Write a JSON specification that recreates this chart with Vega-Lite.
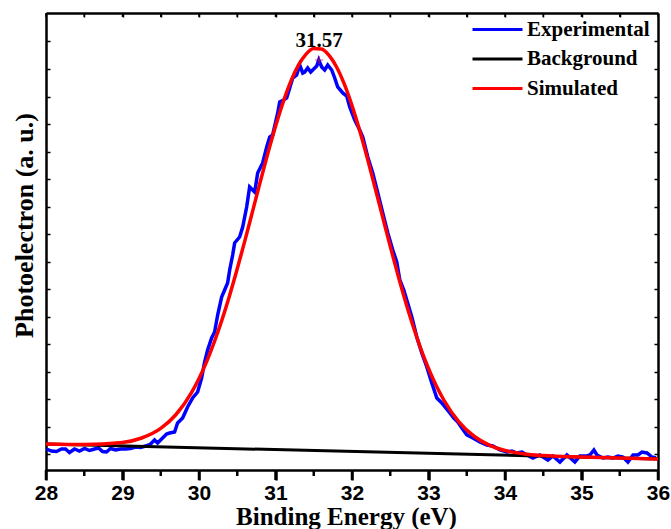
{
  "$schema": "https://vega.github.io/schema/vega-lite/v6.json",
  "width": 612,
  "height": 457,
  "autosize": {"type": "none"},
  "padding": {"left": 46, "top": 13, "right": 13, "bottom": 59},
  "background": "white",
  "config": {
    "view": {"stroke": null},
    "font": "Liberation Serif",
    "scale": {"continuousPadding": 0}
  },
  "datasets": {
    "xps": [
      {"series": "Experimental", "energy": 28.007, "intensity": 21},
      {"series": "Experimental", "energy": 28.072, "intensity": 19},
      {"series": "Experimental", "energy": 28.137, "intensity": 18.5},
      {"series": "Experimental", "energy": 28.203, "intensity": 21},
      {"series": "Experimental", "energy": 28.255, "intensity": 21},
      {"series": "Experimental", "energy": 28.307, "intensity": 17.5},
      {"series": "Experimental", "energy": 28.373, "intensity": 21},
      {"series": "Experimental", "energy": 28.438, "intensity": 19},
      {"series": "Experimental", "energy": 28.504, "intensity": 21.5},
      {"series": "Experimental", "energy": 28.569, "intensity": 19.5},
      {"series": "Experimental", "energy": 28.634, "intensity": 21},
      {"series": "Experimental", "energy": 28.687, "intensity": 22},
      {"series": "Experimental", "energy": 28.739, "intensity": 18.5},
      {"series": "Experimental", "energy": 28.791, "intensity": 18},
      {"series": "Experimental", "energy": 28.844, "intensity": 21.5},
      {"series": "Experimental", "energy": 28.909, "intensity": 20},
      {"series": "Experimental", "energy": 28.975, "intensity": 21},
      {"series": "Experimental", "energy": 29.040, "intensity": 21},
      {"series": "Experimental", "energy": 29.105, "intensity": 21.5},
      {"series": "Experimental", "energy": 29.171, "intensity": 23},
      {"series": "Experimental", "energy": 29.236, "intensity": 22.5},
      {"series": "Experimental", "energy": 29.302, "intensity": 24},
      {"series": "Experimental", "energy": 29.367, "intensity": 26},
      {"series": "Experimental", "energy": 29.419, "intensity": 30},
      {"series": "Experimental", "energy": 29.459, "intensity": 27},
      {"series": "Experimental", "energy": 29.524, "intensity": 32},
      {"series": "Experimental", "energy": 29.576, "intensity": 36},
      {"series": "Experimental", "energy": 29.616, "intensity": 37},
      {"series": "Experimental", "energy": 29.681, "intensity": 38},
      {"series": "Experimental", "energy": 29.720, "intensity": 47},
      {"series": "Experimental", "energy": 29.786, "intensity": 52},
      {"series": "Experimental", "energy": 29.851, "intensity": 63},
      {"series": "Experimental", "energy": 29.917, "intensity": 72},
      {"series": "Experimental", "energy": 29.982, "intensity": 78},
      {"series": "Experimental", "energy": 30.034, "intensity": 92},
      {"series": "Experimental", "energy": 30.074, "intensity": 108},
      {"series": "Experimental", "energy": 30.113, "intensity": 120},
      {"series": "Experimental", "energy": 30.165, "intensity": 132},
      {"series": "Experimental", "energy": 30.204, "intensity": 138},
      {"series": "Experimental", "energy": 30.244, "intensity": 155},
      {"series": "Experimental", "energy": 30.296, "intensity": 173},
      {"series": "Experimental", "energy": 30.335, "intensity": 180},
      {"series": "Experimental", "energy": 30.374, "intensity": 187},
      {"series": "Experimental", "energy": 30.401, "intensity": 200},
      {"series": "Experimental", "energy": 30.440, "intensity": 215},
      {"series": "Experimental", "energy": 30.466, "intensity": 227},
      {"series": "Experimental", "energy": 30.531, "intensity": 233},
      {"series": "Experimental", "energy": 30.571, "intensity": 243},
      {"series": "Experimental", "energy": 30.623, "intensity": 263},
      {"series": "Experimental", "energy": 30.662, "intensity": 283},
      {"series": "Experimental", "energy": 30.728, "intensity": 278},
      {"series": "Experimental", "energy": 30.767, "intensity": 297},
      {"series": "Experimental", "energy": 30.832, "intensity": 307},
      {"series": "Experimental", "energy": 30.885, "intensity": 323},
      {"series": "Experimental", "energy": 30.924, "intensity": 333},
      {"series": "Experimental", "energy": 30.963, "intensity": 335},
      {"series": "Experimental", "energy": 31.029, "intensity": 357},
      {"series": "Experimental", "energy": 31.055, "intensity": 368},
      {"series": "Experimental", "energy": 31.107, "intensity": 370},
      {"series": "Experimental", "energy": 31.146, "intensity": 372},
      {"series": "Experimental", "energy": 31.186, "intensity": 382},
      {"series": "Experimental", "energy": 31.225, "intensity": 392},
      {"series": "Experimental", "energy": 31.277, "intensity": 395},
      {"series": "Experimental", "energy": 31.316, "intensity": 405},
      {"series": "Experimental", "energy": 31.356, "intensity": 397},
      {"series": "Experimental", "energy": 31.382, "intensity": 398},
      {"series": "Experimental", "energy": 31.421, "intensity": 402},
      {"series": "Experimental", "energy": 31.460, "intensity": 398},
      {"series": "Experimental", "energy": 31.513, "intensity": 402},
      {"series": "Experimental", "energy": 31.539, "intensity": 404},
      {"series": "Experimental", "energy": 31.565, "intensity": 410},
      {"series": "Experimental", "energy": 31.604, "intensity": 403},
      {"series": "Experimental", "energy": 31.643, "intensity": 400},
      {"series": "Experimental", "energy": 31.683, "intensity": 405},
      {"series": "Experimental", "energy": 31.735, "intensity": 400},
      {"series": "Experimental", "energy": 31.774, "intensity": 392},
      {"series": "Experimental", "energy": 31.813, "intensity": 383},
      {"series": "Experimental", "energy": 31.879, "intensity": 377},
      {"series": "Experimental", "energy": 31.931, "intensity": 374},
      {"series": "Experimental", "energy": 31.970, "intensity": 363},
      {"series": "Experimental", "energy": 32.036, "intensity": 350},
      {"series": "Experimental", "energy": 32.101, "intensity": 340},
      {"series": "Experimental", "energy": 32.141, "intensity": 333},
      {"series": "Experimental", "energy": 32.206, "intensity": 313},
      {"series": "Experimental", "energy": 32.271, "intensity": 297},
      {"series": "Experimental", "energy": 32.337, "intensity": 277},
      {"series": "Experimental", "energy": 32.402, "intensity": 257},
      {"series": "Experimental", "energy": 32.468, "intensity": 237},
      {"series": "Experimental", "energy": 32.533, "intensity": 220},
      {"series": "Experimental", "energy": 32.585, "intensity": 208},
      {"series": "Experimental", "energy": 32.625, "intensity": 190},
      {"series": "Experimental", "energy": 32.677, "intensity": 180},
      {"series": "Experimental", "energy": 32.716, "intensity": 170},
      {"series": "Experimental", "energy": 32.782, "intensity": 153},
      {"series": "Experimental", "energy": 32.847, "intensity": 133},
      {"series": "Experimental", "energy": 32.912, "intensity": 117},
      {"series": "Experimental", "energy": 32.978, "intensity": 103},
      {"series": "Experimental", "energy": 33.043, "intensity": 87},
      {"series": "Experimental", "energy": 33.109, "intensity": 72},
      {"series": "Experimental", "energy": 33.174, "intensity": 67},
      {"series": "Experimental", "energy": 33.226, "intensity": 62},
      {"series": "Experimental", "energy": 33.279, "intensity": 57},
      {"series": "Experimental", "energy": 33.331, "intensity": 52},
      {"series": "Experimental", "energy": 33.383, "intensity": 48},
      {"series": "Experimental", "energy": 33.436, "intensity": 42},
      {"series": "Experimental", "energy": 33.501, "intensity": 35},
      {"series": "Experimental", "energy": 33.580, "intensity": 32},
      {"series": "Experimental", "energy": 33.671, "intensity": 28},
      {"series": "Experimental", "energy": 33.763, "intensity": 25},
      {"series": "Experimental", "energy": 33.841, "intensity": 24},
      {"series": "Experimental", "energy": 33.933, "intensity": 20},
      {"series": "Experimental", "energy": 34.024, "intensity": 18},
      {"series": "Experimental", "energy": 34.090, "intensity": 19},
      {"series": "Experimental", "energy": 34.155, "intensity": 17},
      {"series": "Experimental", "energy": 34.221, "intensity": 18},
      {"series": "Experimental", "energy": 34.286, "intensity": 15},
      {"series": "Experimental", "energy": 34.364, "intensity": 12},
      {"series": "Experimental", "energy": 34.456, "intensity": 15},
      {"series": "Experimental", "energy": 34.561, "intensity": 10},
      {"series": "Experimental", "energy": 34.626, "intensity": 14},
      {"series": "Experimental", "energy": 34.718, "intensity": 8},
      {"series": "Experimental", "energy": 34.809, "intensity": 15},
      {"series": "Experimental", "energy": 34.914, "intensity": 8},
      {"series": "Experimental", "energy": 34.979, "intensity": 14},
      {"series": "Experimental", "energy": 35.071, "intensity": 14},
      {"series": "Experimental", "energy": 35.110, "intensity": 15},
      {"series": "Experimental", "energy": 35.162, "intensity": 20},
      {"series": "Experimental", "energy": 35.202, "intensity": 15},
      {"series": "Experimental", "energy": 35.280, "intensity": 12},
      {"series": "Experimental", "energy": 35.346, "intensity": 13},
      {"series": "Experimental", "energy": 35.411, "intensity": 12},
      {"series": "Experimental", "energy": 35.476, "intensity": 14},
      {"series": "Experimental", "energy": 35.542, "intensity": 13},
      {"series": "Experimental", "energy": 35.607, "intensity": 8},
      {"series": "Experimental", "energy": 35.673, "intensity": 15},
      {"series": "Experimental", "energy": 35.738, "intensity": 15},
      {"series": "Experimental", "energy": 35.790, "intensity": 18},
      {"series": "Experimental", "energy": 35.856, "intensity": 17},
      {"series": "Experimental", "energy": 35.921, "intensity": 13},
      {"series": "Experimental", "energy": 35.974, "intensity": 12},
      {"series": "Background", "energy": 28, "intensity": 26},
      {"series": "Background", "energy": 36, "intensity": 11},
      {"series": "Simulated", "energy": 28, "intensity": 26.0},
      {"series": "Simulated", "energy": 28.5, "intensity": 25.5},
      {"series": "Simulated", "energy": 29, "intensity": 27.5},
      {"series": "Simulated", "energy": 29.25, "intensity": 32.0},
      {"series": "Simulated", "energy": 29.5, "intensity": 41.6},
      {"series": "Simulated", "energy": 29.7, "intensity": 55.5},
      {"series": "Simulated", "energy": 29.9, "intensity": 77.1},
      {"series": "Simulated", "energy": 30.0, "intensity": 91.5},
      {"series": "Simulated", "energy": 30.1, "intensity": 108.4},
      {"series": "Simulated", "energy": 30.2, "intensity": 128.0},
      {"series": "Simulated", "energy": 30.3, "intensity": 150.1},
      {"series": "Simulated", "energy": 30.4, "intensity": 174.6},
      {"series": "Simulated", "energy": 30.5, "intensity": 201.2},
      {"series": "Simulated", "energy": 30.6, "intensity": 229.4},
      {"series": "Simulated", "energy": 30.7, "intensity": 258.6},
      {"series": "Simulated", "energy": 30.8, "intensity": 288.0},
      {"series": "Simulated", "energy": 30.9, "intensity": 316.7},
      {"series": "Simulated", "energy": 31.0, "intensity": 343.6},
      {"series": "Simulated", "energy": 31.1, "intensity": 367.9},
      {"series": "Simulated", "energy": 31.2, "intensity": 388.6},
      {"series": "Simulated", "energy": 31.3, "intensity": 404.8},
      {"series": "Simulated", "energy": 31.4, "intensity": 415.9},
      {"series": "Simulated", "energy": 31.5, "intensity": 421.4},
      {"series": "Simulated", "energy": 31.6, "intensity": 421.0},
      {"series": "Simulated", "energy": 31.7, "intensity": 414.7},
      {"series": "Simulated", "energy": 31.8, "intensity": 402.8},
      {"series": "Simulated", "energy": 31.9, "intensity": 385.8},
      {"series": "Simulated", "energy": 32.0, "intensity": 364.4},
      {"series": "Simulated", "energy": 32.1, "intensity": 339.5},
      {"series": "Simulated", "energy": 32.2, "intensity": 311.9},
      {"series": "Simulated", "energy": 32.3, "intensity": 282.8},
      {"series": "Simulated", "energy": 32.4, "intensity": 253.1},
      {"series": "Simulated", "energy": 32.5, "intensity": 223.6},
      {"series": "Simulated", "energy": 32.6, "intensity": 195.1},
      {"series": "Simulated", "energy": 32.7, "intensity": 168.2},
      {"series": "Simulated", "energy": 32.8, "intensity": 143.5},
      {"series": "Simulated", "energy": 32.9, "intensity": 121.2},
      {"series": "Simulated", "energy": 33.0, "intensity": 101.5},
      {"series": "Simulated", "energy": 33.1, "intensity": 84.4},
      {"series": "Simulated", "energy": 33.2, "intensity": 70.0},
      {"series": "Simulated", "energy": 33.4, "intensity": 47.9},
      {"series": "Simulated", "energy": 33.6, "intensity": 33.5},
      {"series": "Simulated", "energy": 33.8, "intensity": 24.7},
      {"series": "Simulated", "energy": 34.0, "intensity": 19.5},
      {"series": "Simulated", "energy": 34.25, "intensity": 16.1},
      {"series": "Simulated", "energy": 34.5, "intensity": 14.4},
      {"series": "Simulated", "energy": 35.0, "intensity": 12.9},
      {"series": "Simulated", "energy": 35.5, "intensity": 11.9},
      {"series": "Simulated", "energy": 36.0, "intensity": 11.0},
      {"series": "Peak", "energy": 31.57, "intensity": 410, "label": "31.57"},
      {"series": "Tick", "kind": "major", "energy": 28},
      {"series": "Tick", "kind": "minor", "energy": 28.5},
      {"series": "Tick", "kind": "major", "energy": 29},
      {"series": "Tick", "kind": "minor", "energy": 29.5},
      {"series": "Tick", "kind": "major", "energy": 30},
      {"series": "Tick", "kind": "minor", "energy": 30.5},
      {"series": "Tick", "kind": "major", "energy": 31},
      {"series": "Tick", "kind": "minor", "energy": 31.5},
      {"series": "Tick", "kind": "major", "energy": 32},
      {"series": "Tick", "kind": "minor", "energy": 32.5},
      {"series": "Tick", "kind": "major", "energy": 33},
      {"series": "Tick", "kind": "minor", "energy": 33.5},
      {"series": "Tick", "kind": "major", "energy": 34},
      {"series": "Tick", "kind": "minor", "energy": 34.5},
      {"series": "Tick", "kind": "major", "energy": 35},
      {"series": "Tick", "kind": "minor", "energy": 35.5},
      {"series": "Tick", "kind": "major", "energy": 36}
    ]
  },
  "data": {"name": "xps"},
  "resolve": {"axis": {"x": "independent", "y": "independent"}},
  "layer": [
    {
      "encoding": {
        "x": {
          "field": "energy", "type": "quantitative",
          "scale": {"domain": [28, 36], "nice": false, "zero": false, "padding": 0},
          "axis": {
            "orient": "bottom",
            "values": [28, 29, 30, 31, 32, 33, 34, 35, 36],
            "format": "d",
            "tickSize": 10, "tickWidth": 2.5, "tickColor": "black",
            "domain": true, "domainColor": "black", "domainWidth": 2.5, "grid": false,
            "labelFont": "Liberation Sans", "labelFontWeight": "bold", "labelFontSize": 21,
            "labelColor": "black", "labelPadding": 2, "labelFlush": false, "labelOverlap": false,
            "title": "Binding Energy (eV)",
            "titleFont": "Liberation Serif", "titleFontWeight": "bold", "titleFontSize": 25,
            "titleColor": "black", "titlePadding": 1, "titleX": 300
          }
        },
        "y": {
          "field": "intensity", "type": "quantitative",
          "scale": {"domain": [0, 457], "nice": false, "zero": false, "padding": 0},
          "axis": {
            "orient": "left",
            "values": [16, 43.5, 71, 98.5, 126, 153.5, 181, 208.5, 236, 263.5, 291, 318.5, 346, 373.5, 401, 428.5],
            "labels": false,
            "tickSize": -4, "tickWidth": 1.5, "tickColor": "black",
            "domain": true, "domainColor": "black", "domainWidth": 2.5, "grid": false,
            "title": "Photoelectron (a. u.)",
            "titleFont": "Liberation Serif", "titleFontWeight": "bold", "titleFontSize": 26,
            "titleColor": "black", "titlePadding": 8, "titleY": 212
          }
        }
      },
      "layer": [
        {
          "transform": [{"filter": "datum.series == 'Experimental'"}],
          "mark": {"type": "line", "strokeWidth": 3.5},
          "encoding": {
            "color": {
              "field": "series", "type": "nominal",
              "scale": {"domain": ["Experimental", "Background", "Simulated"], "range": ["#0000ff", "#000000", "#ff0000"]},
              "legend": {
                "orient": "none", "legendX": 441, "legendY": 6,
                "title": null,
                "symbolType": "M-5,0H5", "symbolSize": 100, "symbolStrokeWidth": 3,
                "labelOffset": 19,
                "labelFont": "Liberation Serif", "labelFontWeight": "bold", "labelFontSize": 21,
                "labelColor": "black", "rowPadding": 7.5, "labelLimit": 300
              }
            }
          }
        },
        {
          "transform": [{"filter": "datum.series == 'Background'"}],
          "mark": {"type": "line", "strokeWidth": 3},
          "encoding": {"color": {"field": "series", "type": "nominal"}}
        },
        {
          "transform": [{"filter": "datum.series == 'Simulated'"}],
          "mark": {"type": "line", "strokeWidth": 3.5, "interpolate": "monotone"},
          "encoding": {"color": {"field": "series", "type": "nominal"}}
        },
        {
          "transform": [{"filter": "datum.series == 'Peak'"}],
          "mark": {"type": "point", "shape": "M-1,0L1,0M0,-1L0,1", "size": 64, "strokeWidth": 1.2, "color": "#c8104a", "filled": false}
        },
        {
          "transform": [{"filter": "datum.series == 'Peak'"}],
          "mark": {"type": "text", "font": "Liberation Serif", "fontWeight": "bold", "fontSize": 21, "baseline": "alphabetic", "align": "center", "dy": -13, "color": "black"},
          "encoding": {"text": {"field": "label"}}
        }
      ]
    },
    {
      "transform": [{"filter": "datum.series == 'Background'"}],
      "mark": {"type": "line", "strokeOpacity": 0},
      "encoding": {
        "x": {
          "field": "energy", "type": "quantitative",
          "axis": {
            "orient": "top",
            "values": [28.5, 29, 29.5, 30, 30.5, 31, 31.5, 32, 32.5, 33, 33.5, 34, 34.5, 35, 35.5],
            "labels": false, "title": null, "grid": false,
            "domain": true, "domainColor": "black", "domainWidth": 2.5,
            "tickSize": -4, "tickWidth": 1.5, "tickColor": "black"
          }
        },
        "y": {
          "field": "intensity", "type": "quantitative",
          "axis": {
            "orient": "right",
            "values": [16, 43.5, 71, 98.5, 126, 153.5, 181, 208.5, 236, 263.5, 291, 318.5, 346, 373.5, 401, 428.5],
            "labels": false, "title": null, "grid": false,
            "domain": true, "domainColor": "black", "domainWidth": 2.5,
            "tickSize": -4, "tickWidth": 1.5, "tickColor": "black"
          }
        }
      }
    },
    {
      "transform": [{"filter": "datum.series == 'Tick' && datum.kind == 'major'"}],
      "mark": {"type": "bar", "width": 2.5, "color": "black", "clip": false},
      "encoding": {
        "x": {"field": "energy", "type": "quantitative", "axis": null},
        "y": {"datum": 0, "type": "quantitative", "axis": null},
        "y2": {"datum": -10}
      }
    },
    {
      "transform": [{"filter": "datum.series == 'Tick' && datum.kind == 'minor'"}],
      "mark": {"type": "bar", "width": 2.5, "color": "black", "clip": false},
      "encoding": {
        "x": {"field": "energy", "type": "quantitative", "axis": null},
        "y": {"datum": 0, "type": "quantitative", "axis": null},
        "y2": {"datum": -6}
      }
    },
    {
      "transform": [{"filter": "datum.series == 'Tick'"}],
      "mark": {"type": "bar", "width": 1.5, "color": "black", "clip": false},
      "encoding": {
        "x": {"field": "energy", "type": "quantitative", "axis": null},
        "y": {"datum": 457, "type": "quantitative", "axis": null},
        "y2": {"datum": 453}
      }
    }
  ]
}
